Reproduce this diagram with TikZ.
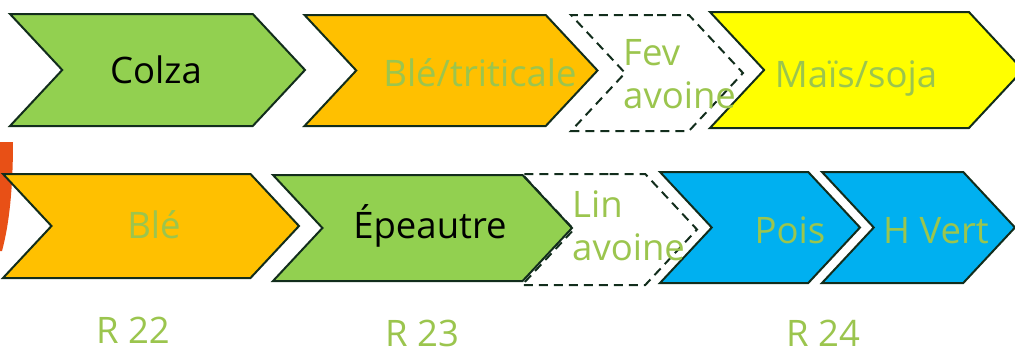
\documentclass[tikz,border=0pt]{standalone}
\usepackage{fontspec}
\setmainfont{Open Sans}
\usetikzlibrary{shapes.symbols}

\definecolor{leaf}{RGB}{146,208,80}
\definecolor{wheat}{RGB}{255,192,0}
\definecolor{maize}{RGB}{255,255,0}
\definecolor{pea}{RGB}{0,176,240}
\definecolor{rim}{RGB}{18,45,28}
\definecolor{txt}{RGB}{155,197,78}
\definecolor{arcred}{RGB}{232,80,22}

\begin{document}
\begin{tikzpicture}[x=1pt,y=-1pt,
    crop/.style={signal,signal from=west,signal to=east,signal pointer angle=94,
      draw=rim,line width=2pt,inner sep=0pt},
    cover/.style={crop,dash pattern=on 9pt off 6pt},
    lbl/.style={anchor=base,text=txt,inner sep=0pt,
      font=\fontsize{36.5}{43}\selectfont}]

      \useasboundingbox (0,0) rectangle (1015,351);

      % orange arc at the left border
      \fill[arcred] (0,142) -- (13,142) .. controls (13,190) and (9,225) .. (2,251)
        -- (0,251) -- cycle;

      % first row
      \node[crop,fill=leaf,minimum width=295pt,minimum height=112pt]  (colza) at (157.5,70)  {};
      \node[crop,fill=wheat,minimum width=293pt,minimum height=111pt] (trit)  at (451,70.5)  {};
      \node[cover,minimum width=172pt,minimum height=116pt]           (fev)   at (657,73)    {};
      \node[crop,fill=maize,minimum width=313pt,minimum height=116pt] (mais)  at (866.5,70)  {};

      % second row
      \node[crop,fill=wheat,minimum width=296pt,minimum height=104pt] (ble)   at (151,226)   {};
      \node[crop,fill=leaf,minimum width=299pt,minimum height=106pt]  (epea)  at (422.5,228) {};
      \node[cover,minimum width=175pt,minimum height=111pt]           (lin)   at (609.5,229.5) {};
      \node[crop,fill=pea,minimum width=200pt,minimum height=111pt]   (pois)  at (760,227.5) {};
      \node[crop,fill=pea,minimum width=193pt,minimum height=111pt]   (hvert) at (918.5,227.5) {};

      % texts
      \begin{scope}[every node/.style={lbl}]
        \node[text=black] (tcolza) at (156,83)  {Colza};
        \node (ttrit)  at (480,86)  {Blé/triticale};
        \node[align=left,anchor=base west] (tfev) at (623,108) {Fev\\avoine};
        \node (tmais)  at (856,87)  {Maïs/soja};
        \node (tble)   at (154,238) {Blé};
        \node[text=black] (tepea) at (430,238) {Épeautre};
        \node[align=left,anchor=base west] (tlin) at (572,260) {Lin\\avoine};
        \node (tpois)  at (790,243) {Pois};
        \node (thvert) at (936,243) {H Vert};
        \node (r22)    at (133,343) {R 22};
        \node (r23)    at (422,346) {R 23};
        \node (r24)    at (823,346) {R 24};
      \end{scope}

    \end{tikzpicture}
\end{document}
